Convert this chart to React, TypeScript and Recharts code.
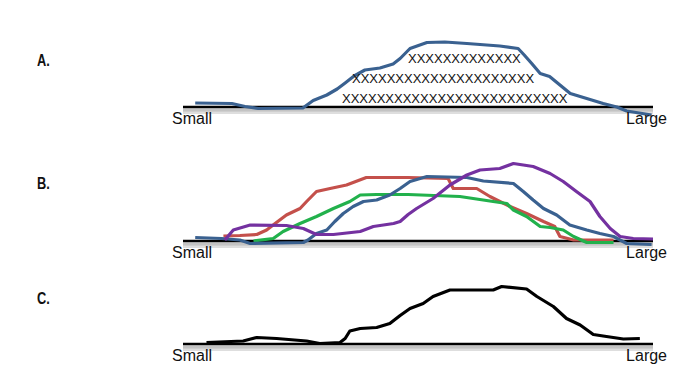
import { LineChart, Line, XAxis, YAxis, ReferenceLine } from "recharts";

// size scale readings: [position along Small→Large (0–100), height above baseline]
const distA: [number, number][] = [
  [2.6, 0.8], [10.4, 0.7], [13.2, 0.1], [16, -0.3], [25.5, -0.2], [27.7, 1.3],
  [30.6, 2.4], [32.8, 3.6], [34.5, 4.8], [36.4, 6.2], [38.7, 7.4], [41.9, 7.8],
  [44.7, 8.6], [46.2, 9.7], [48.3, 11.7], [51.9, 12.9], [55.7, 13], [60.4, 12.7],
  [67.4, 12.2], [71.3, 11.7], [72.6, 10.4], [74.2, 8.7], [76, 6.7], [78, 6.1],
  [80.2, 4.4], [82.4, 2.7], [85.9, 1.7], [89.4, 0.7], [92.3, 0], [94.4, -0.8],
  [99.7, -1.6],
];

const blueB: [number, number][] = [
  [2.6, 0.7], [8.2, 0.5], [12.1, 0.2], [14.3, -0.5], [25.6, -0.3], [26.6, 0.2],
  [28.4, 1.5], [30.6, 2.2], [32.3, 3.9], [34.1, 5.5], [36.2, 6.9], [38.4, 7.9],
  [41.2, 8.2], [44, 9.2], [46.2, 10.5], [48.3, 11.9], [51.9, 12.9], [60.4, 12.7],
  [63.9, 12], [70.3, 11.5], [72.4, 9.9], [74.5, 8.2], [76.7, 6.5], [79.5, 5.2],
  [82.3, 3.2], [85.9, 2.2], [88.7, 1.5], [91.6, 0.9], [94.4, -0.5], [99.7, -0.7],
];

const redB: [number, number][] = [
  [8.6, 1], [12.1, 1.1], [15.7, 1.3], [17.8, 2.2], [19.6, 3.5], [22, 5.2],
  [24.9, 6.5], [26.3, 7.9], [28.4, 9.9], [31.3, 10.5], [34.8, 11.2], [39, 12.7],
  [47.9, 12.7], [56.4, 12.5], [57.5, 10.5], [62.5, 10.5], [65.3, 8.9], [69.6, 6.9],
  [73.1, 5.5], [76.7, 3.9], [79.1, 2.9], [80.2, 0.9], [83.1, 0.2], [91.6, 0.2],
];

const greenB: [number, number][] = [
  [15, 0], [19.2, 0.5], [21.3, 1.9], [24.9, 3.5], [28.4, 4.9], [32, 6.5],
  [35.5, 7.9], [37.7, 9.2], [41.2, 9.3], [47.9, 9.3], [58.9, 8.9], [66, 7.9],
  [68.9, 7.5], [70.3, 6.2], [73.1, 4.9], [76, 2.9], [78.1, 2.7], [80.9, 2.2],
  [83.1, 0.9], [85.9, -0.3], [91.6, -0.3],
];

const purpleB: [number, number][] = [
  [8.9, 0.2], [10.7, 2.2], [14.3, 3.2], [22, 3.1], [25.6, 2.5], [28.4, 1.3],
  [32, 1.3], [37.7, 1.9], [40.5, 2.9], [44.8, 3.5], [46.2, 3.9], [47.9, 5.3],
  [49.7, 6.5], [53.2, 8.5], [56.8, 11.2], [60.4, 13.2], [63.2, 14.2], [67.4, 14.5],
  [70.3, 15.5], [74.5, 14.9], [78.1, 13.5], [80.9, 11.9], [83.7, 9.9], [86.6, 7.9],
  [88.7, 4.9], [90.9, 2.5], [93, 0.9], [95.8, 0.5], [100, 0.4],
];

const combinedC: [number, number][] = [
  [5, 0.3], [12.8, 0.6], [15.7, 1.3], [19.9, 1.1], [26.3, 0.6], [29.1, 0.1],
  [33.4, 0.3], [34.5, 1.1], [35.5, 2.6], [37.7, 3.1], [41.2, 3.3], [44, 4.1],
  [46.2, 5.7], [48.3, 7.1], [51.1, 8.1], [53.2, 9.5], [56.8, 10.8], [66, 10.8],
  [67.8, 11.5], [73.1, 11], [75.3, 9.5], [78.8, 7.5], [81.6, 5.1], [84.5, 3.8],
  [87.3, 1.9], [90.1, 1.5], [93.7, 1], [97.2, 1.1],
];

const tickValues = [0, 100];
const tickLabels = ["Small", "Large"];
const panelLabels = ["A.", "B.", "C."];
const tallyRows = ["XXXXXXXXXXXXX", "XXXXXXXXXXXXXXXXXXXXX", "XXXXXXXXXXXXXXXXXXXXXXXXXX"];

const toRows = (pts: [number, number][]) => pts.map(([x, y]) => ({ x, y }));

const SizeTick = (props: any) => {
  const { x, y, payload } = props;
  const first = payload.value === tickValues[0];
  return (
    <text
      x={first ? x - 11 : x + 14}
      y={y + 7}
      textAnchor={first ? "start" : "end"}
      fontFamily="'Liberation Sans', Arial, sans-serif"
      fontSize={16}
      fill="#111"
    >
      {tickLabels[tickValues.indexOf(payload.value)]}
    </text>
  );
};

type Series = { data: [number, number][]; color: string };

function Panel({ top, height, marginTop, yMax, series }: {
  top: number; height: number; marginTop: number; yMax: number; series: Series[];
}) {
  return (
    <div style={{ position: "absolute", left: 0, top }}>
      <LineChart width={700} height={height} margin={{ top: marginTop, right: 47, bottom: 0, left: 183 }}>
        <XAxis
          type="number"
          dataKey="x"
          domain={[0, 100]}
          ticks={tickValues}
          tick={<SizeTick />}
          tickSize={0}
          tickMargin={0}
          axisLine={false}
          tickLine={false}
          height={20}
        />
        <YAxis type="number" domain={[-2, yMax]} hide />
        <ReferenceLine y={-1.1} stroke="#dedede" strokeWidth={3} />
        <ReferenceLine y={-0.6} stroke="#b8b8b8" strokeWidth={3} strokeOpacity={0.85} />
        <ReferenceLine y={0} stroke="#000" strokeWidth={2.5} />
        {series.map((s, i) => (
          <Line
            key={i}
            data={toRows(s.data)}
            dataKey="y"
            type="linear"
            stroke={s.color}
            strokeWidth={3.2}
            strokeLinejoin="round"
            dot={false}
            activeDot={false}
            isAnimationActive={false}
          />
        ))}
      </LineChart>
    </div>
  );
}

const panelLabelStyle = (top: number): React.CSSProperties => ({
  position: "absolute",
  left: 37,
  top,
  fontFamily: "'Liberation Sans Narrow', 'Arial Narrow', 'Liberation Sans', sans-serif",
  fontWeight: 700,
  fontSize: 16,
  lineHeight: "16px",
  color: "#111",
  transform: "scaleX(0.8)",
  transformOrigin: "left center",
});

const tallyStyle = (left: number, top: number): React.CSSProperties => ({
  position: "absolute",
  left,
  top,
  fontFamily: "'Liberation Sans', Arial, sans-serif",
  fontSize: 13,
  lineHeight: "13px",
  color: "#111",
  whiteSpace: "nowrap",
});

export default function App() {
  return (
    <div style={{ position: "absolute", left: 0, top: 0, width: 700, height: 370, background: "#fff", overflow: "hidden" }}>
      <Panel top={30} height={107} marginTop={7} yMax={14} series={[{ data: distA, color: "#3a6190" }]} />
      <Panel
        top={150}
        height={121}
        marginTop={6}
        yMax={17}
        series={[
          { data: redB, color: "#c4504b" },
          { data: greenB, color: "#22b14c" },
          { data: blueB, color: "#3a6190" },
          { data: purpleB, color: "#7431a0" },
        ]}
      />
      <Panel top={272} height={102} marginTop={7} yMax={13} series={[{ data: combinedC, color: "#000" }]} />

      <div style={panelLabelStyle(53)}>{panelLabels[0]}</div>
      <div style={panelLabelStyle(176)}>{panelLabels[1]}</div>
      <div style={panelLabelStyle(291)}>{panelLabels[2]}</div>

      <div style={tallyStyle(408, 52)}>{tallyRows[0]}</div>
      <div style={tallyStyle(352, 72)}>{tallyRows[1]}</div>
      <div style={tallyStyle(342, 92)}>{tallyRows[2]}</div>
    </div>
  );
}
